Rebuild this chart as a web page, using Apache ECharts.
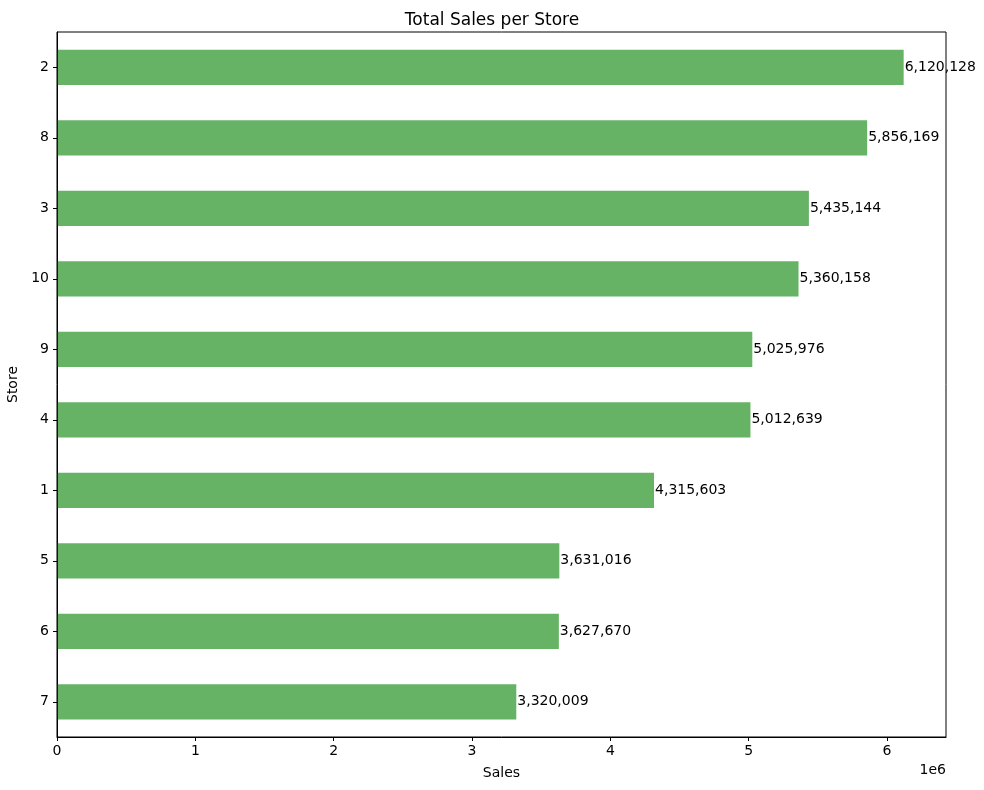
<!DOCTYPE html>
<html style="height: 100%">
<head>
    <meta charset="utf-8">
    <script type="text/javascript" src="https://cdn.jsdelivr.net/npm/echarts@6/dist/echarts.min.js"></script>
</head>
<body style="height: 100%; margin: 0; background: #fff">
<div id="container" style="width: 984px; height: 790px"></div>
<script type="text/javascript">
    // stores listed bottom to top, as pandas barh draws them
    var stores = ['7', '6', '5', '1', '4', '9', '10', '3', '8', '2'];
    var sales = [3320009, 3627670, 3631016, 4315603, 5012639, 5025976, 5360158, 5435144, 5856169, 6120128];
    var xTicks = [0, 1, 2, 3, 4, 5, 6];

    var font = 'DejaVu Sans';
    var xMax = Math.max.apply(null, sales) * 1.05;

    var dom = document.getElementById("container");
    var myChart = echarts.init(dom);
    var option = {
        animation: false,
        textStyle: { fontFamily: font },
        title: {
            text: 'Total Sales per Store',
            left: 'center',
            top: 7,
            textStyle: { fontFamily: font, fontSize: 17, fontWeight: 'normal', color: '#000' }
        },
        grid: { left: 57, right: 38, top: 32, bottom: 53, outerBoundsMode: 'none', containLabel: false },
        xAxis: {
            type: 'value',
            min: 0,
            max: xMax,
            interval: 1e6,
            name: 'Sales',
            nameLocation: 'middle',
            nameGap: 29,
            nameTextStyle: { fontFamily: font, fontSize: 14, color: '#000' },
            splitLine: { show: false },
            axisLine: { show: true, lineStyle: { color: '#000', width: 1 } },
            axisTick: { show: true, length: 4, lineStyle: { color: '#000' } },
            axisLabel: {
                fontFamily: font, fontSize: 14, color: '#000', margin: 7,
                showMaxLabel: false,
                formatter: function (v) {
                    var t = v / 1e6;
                    return xTicks.indexOf(t) >= 0 ? String(t) : '';
                }
            }
        },
        yAxis: {
            type: 'category',
            data: stores,
            name: 'Store',
            nameLocation: 'middle',
            nameGap: 28,
            nameRotate: 90,
            nameTextStyle: { fontFamily: font, fontSize: 14, color: '#000' },
            axisLine: { show: true, lineStyle: { color: '#000', width: 1 } },
            axisTick: { show: true, alignWithLabel: true, length: 4, lineStyle: { color: '#000' } },
            axisLabel: { fontFamily: font, fontSize: 14, color: '#000', margin: 8 }
        },
        graphic: [
            { type: 'rect', shape: { x: 57, y: 32, width: 889, height: 705 },
              style: { fill: 'none', stroke: '#000', lineWidth: 1 }, z: 10 },
            { type: 'text', right: 38, top: 763,
              style: { text: '1e6', font: '14px "DejaVu Sans"', fill: '#000' } }
        ],
        series: [{
            type: 'bar',
            data: sales,
            barWidth: '50%',
            itemStyle: { color: 'rgba(0,128,0,0.6)' },
            label: {
                show: true,
                position: 'right',
                distance: 1,
                fontFamily: font,
                fontSize: 14,
                color: '#000',
                formatter: function (p) { return p.value.toLocaleString('en-US'); }
            }
        }]
    };
    myChart.setOption(option);
</script>
</body>
</html>
